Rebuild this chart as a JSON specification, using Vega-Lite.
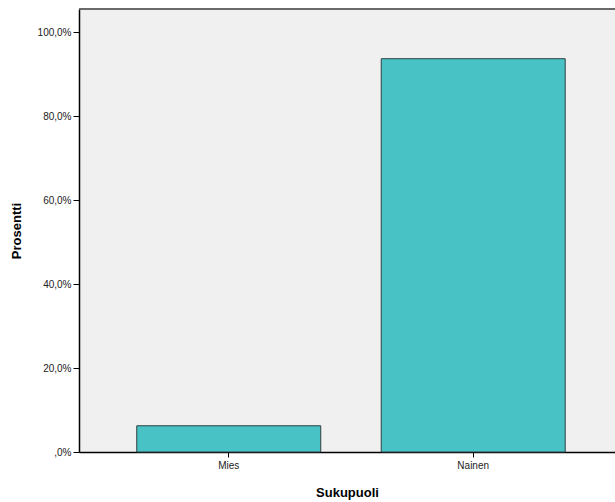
{
  "$schema": "https://vega.github.io/schema/vega-lite/v6.json",
  "width": 536,
  "height": 443,
  "autosize": {"type": "none"},
  "padding": {"left": 79, "top": 9, "right": 0, "bottom": 50},
  "background": "#ffffff",
  "config": {
    "view": {"fill": "#f0f0f0", "stroke": null},
    "font": "Liberation Sans"
  },
  "data": {
    "values": [
      {"Sukupuoli": "Mies", "Prosentti": 6.25},
      {"Sukupuoli": "Nainen", "Prosentti": 93.75}
    ]
  },
  "layer": [
    {
      "mark": {"type": "bar", "color": "#48c2c5", "stroke": "#2f3f40", "strokeWidth": 1},
      "encoding": {
        "x": {
          "field": "Sukupuoli",
          "type": "nominal",
          "sort": ["Mies", "Nainen"],
          "scale": {"paddingInner": 0.2474, "paddingOuter": 0.22, "align": 0.537},
          "axis": {
            "title": "Sukupuoli",
            "titleFont": "Liberation Sans",
            "titleFontSize": 13,
            "titleFontWeight": "bold",
            "titleColor": "#000000",
            "titlePadding": 16,
            "labelAngle": 0,
            "labelFontSize": 10,
            "labelColor": "#222222",
            "labelPadding": 3,
            "domainColor": "#000000",
            "domainWidth": 1.5,
            "tickColor": "#000000",
            "tickSize": 5,
            "grid": false
          }
        },
        "y": {
          "field": "Prosentti",
          "type": "quantitative",
          "scale": {"domain": [0, 105.6], "nice": false},
          "axis": {
            "title": "Prosentti",
            "titleFont": "Liberation Sans",
            "titleFontSize": 13,
            "titleFontWeight": "bold",
            "titleColor": "#000000",
            "titlePadding": 14,
            "values": [0, 20, 40, 60, 80, 100],
            "labelExpr": "datum.value == 0 ? ',0%' : replace(format(datum.value, '.1f'), '.', ',') + '%'",
            "labelFontSize": 10,
            "labelColor": "#222222",
            "labelPadding": 2,
            "domainColor": "#000000",
            "domainWidth": 1.5,
            "tickColor": "#000000",
            "tickSize": 6,
            "grid": false
          }
        }
      }
    },
    {
      "mark": {"type": "rule", "color": "#606060", "strokeWidth": 1.5},
      "encoding": {"y": {"datum": 105.6}}
    }
  ]
}
